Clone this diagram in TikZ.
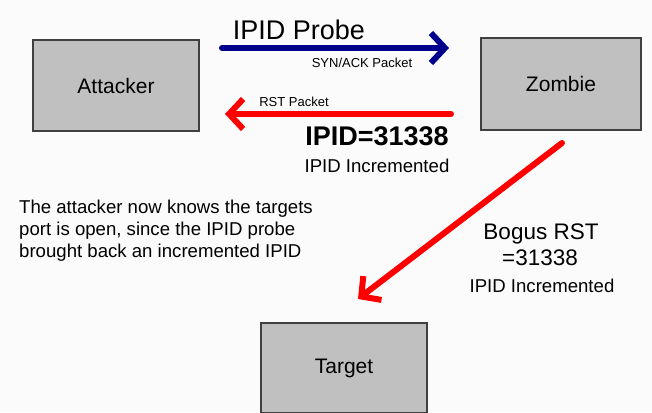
\documentclass[tikz,border=0pt]{standalone}
\usepackage{fontspec}
\setmainfont{Liberation Sans}
\usetikzlibrary{arrows.meta}
\definecolor{boxfill}{RGB}{192,192,192}
\definecolor{boxline}{RGB}{64,64,64}
\definecolor{probeblue}{RGB}{0,0,140}
\definecolor{bg}{RGB}{251,251,251}
\begin{document}
\begin{tikzpicture}[x=1pt,y=-1pt,
  box/.style={draw=boxline,line width=2pt,fill=boxfill,inner sep=0pt,
    font=\fontsize{21}{25}\selectfont},
  thickarrow/.style={line width=6pt,line cap=round,line join=round,
    -{Straight Barb[length=14pt,width=30pt]}},
  lbl/.style={inner sep=0pt},
  big/.style={lbl,font=\fontsize{27}{31}\selectfont},
  med/.style={lbl,font=\fontsize{18.6}{22}\selectfont},
  small/.style={lbl,font=\fontsize{13}{15}\selectfont}]
\fill[bg] (0,0) rectangle (652,412);
\useasboundingbox (0,0) rectangle (652,412);

\node[box,minimum width=166pt,minimum height=91pt] (attacker) at (116,85.5) {Attacker};
\node[box,minimum width=160pt,minimum height=92pt] (zombie) at (561,84) {Zombie};
\node[box,minimum width=166pt,minimum height=90pt] (target) at (344,368) {Target};

\coordinate (p1) at (222,48);
\coordinate (p2) at (449,48);
\coordinate (r1) at (451,114);
\coordinate (r2) at (225,114);
\coordinate (b1) at (562,143);
\coordinate (b2) at (358,299);

\draw[thickarrow,draw=probeblue] (p1) -- (p2);
\draw[thickarrow,draw=red] (r1) -- (r2);
\draw[thickarrow,draw=red] (b1) -- (b2);

\node[big] (probe) at (299,30) {IPID Probe};
\node[small] (synack) at (362,63) {SYN/ACK Packet};
\node[small] (rst) at (294,102) {RST Packet};
\node[big,font=\fontsize{27}{31}\selectfont\bfseries] (ipid) at (377,136) {IPID=31338};
\node[med] (inc1) at (377,166) {IPID Incremented};
\node[med,anchor=west,align=left] (note) at (19,231)
  {The attacker now knows the targets\\port is open, since the IPID probe\\brought back an incremented IPID};
\node[lbl,font=\fontsize{22.5}{26}\selectfont] (bogus) at (541,234) {Bogus RST};
\node[lbl,font=\fontsize{22.5}{26}\selectfont] (num) at (540,258) {=31338};
\node[med] (inc2) at (542,286) {IPID Incremented};
\end{tikzpicture}
\end{document}
